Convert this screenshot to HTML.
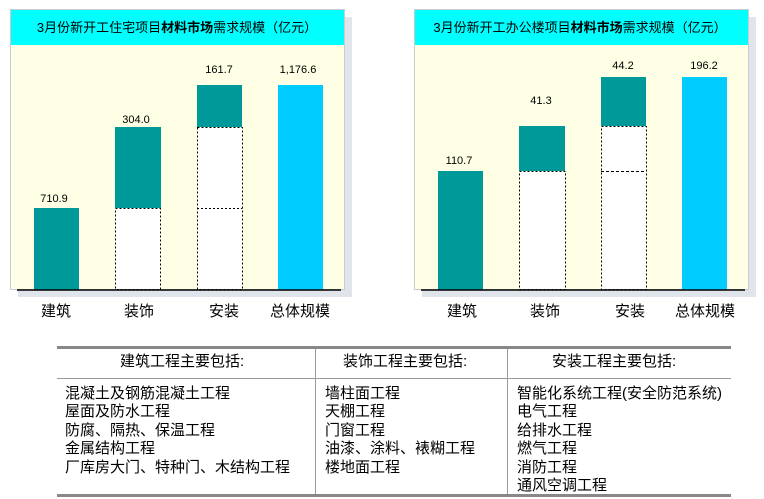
<!DOCTYPE html>
<html><head><meta charset="utf-8"><style>
html,body{margin:0;padding:0;background:#fff;}
body{width:764px;height:499px;position:relative;overflow:hidden;font-family:"Liberation Sans","Noto Sans CJK SC",sans-serif;}
svg{position:absolute;left:0;top:0;}
.t{position:absolute;font-size:15px;line-height:18.4px;color:#000;font-family:"Liberation Sans","Noto Sans CJK SC",sans-serif;white-space:nowrap;}
</style></head><body>
<svg width="764" height="340" viewBox="0 0 764 340" font-family="Liberation Sans, Noto Sans CJK SC, sans-serif">
<!-- left chart -->
<rect x="18" y="17" width="334" height="280" fill="#dfe5ea"/>
<rect x="10.5" y="9.5" width="334" height="280" fill="#ffffe6" stroke="#c8cccc"/>
<rect x="11" y="10" width="333" height="35" fill="#00ffff"/>
<text x="177" y="32" font-size="13" text-anchor="middle">3月份新开工住宅项目<tspan font-weight="bold">材料市场</tspan>需求规模（亿元）</text>
<rect x="34" y="208" width="45" height="82" fill="#009999"/>
<rect x="115" y="127" width="46" height="81" fill="#009999"/>
<rect x="115.5" y="208.5" width="45" height="81" fill="#fff" stroke="#000" stroke-dasharray="2,2"/>
<rect x="197" y="85" width="45" height="42" fill="#009999"/>
<rect x="197.5" y="127.5" width="45" height="162" fill="#fff" stroke="#000" stroke-dasharray="2,2"/>
<line x1="197" y1="208.5" x2="242" y2="208.5" stroke="#000" stroke-dasharray="2,2"/>
<rect x="278" y="85" width="45" height="205" fill="#00ccff"/>
<line x1="17" y1="290" x2="341" y2="290" stroke="#000" stroke-width="1.5"/>
<g font-size="11" text-anchor="middle">
<text x="54" y="202">710.9</text><text x="136" y="123">304.0</text><text x="219" y="73">161.7</text><text x="298" y="73">1,176.6</text>
</g>
<g font-size="15" text-anchor="middle">
<text x="56" y="316">建筑</text><text x="139" y="316">装饰</text><text x="224" y="316">安装</text><text x="300" y="316">总体规模</text>
</g>
<!-- right chart -->
<rect x="422" y="17" width="334" height="280" fill="#dfe5ea"/>
<rect x="414.5" y="9.5" width="334" height="280" fill="#ffffe6" stroke="#c8cccc"/>
<rect x="415" y="10" width="333" height="35" fill="#00ffff"/>
<text x="580" y="32" font-size="13" text-anchor="middle">3月份新开工办公楼项目<tspan font-weight="bold">材料市场</tspan>需求规模（亿元）</text>
<rect x="438" y="171" width="45" height="119" fill="#009999"/>
<rect x="519" y="126" width="46" height="45" fill="#009999"/>
<rect x="519.5" y="171.5" width="46" height="118" fill="#fff" stroke="#000" stroke-dasharray="2,2"/>
<rect x="601" y="77" width="45" height="49" fill="#009999"/>
<rect x="601.5" y="126.5" width="45" height="163" fill="#fff" stroke="#000" stroke-dasharray="2,2"/>
<line x1="601" y1="171.5" x2="646" y2="171.5" stroke="#000" stroke-dasharray="3,2"/>
<rect x="682" y="77" width="45" height="213" fill="#00ccff"/>
<line x1="421" y1="290" x2="745" y2="290" stroke="#000" stroke-width="1.5"/>
<g font-size="11" text-anchor="middle">
<text x="459" y="164">110.7</text><text x="541" y="104">41.3</text><text x="623" y="69">44.2</text><text x="704" y="69">196.2</text>
</g>
<g font-size="15" text-anchor="middle">
<text x="462" y="316">建筑</text><text x="545" y="316">装饰</text><text x="630" y="316">安装</text><text x="705" y="316">总体规模</text>
</g>
</svg>
<svg width="764" height="499" viewBox="0 0 764 499" style="top:0">
<rect x="57" y="346" width="674" height="3" fill="#888"/>
<line x1="57" y1="378.5" x2="731" y2="378.5" stroke="#999"/>
<rect x="57" y="494" width="674" height="3" fill="#888"/>
<line x1="315.5" y1="349" x2="315.5" y2="494" stroke="#999"/>
<line x1="507.5" y1="349" x2="507.5" y2="494" stroke="#999"/>
</svg>
<div class="t" style="left:120px;top:353px">建筑工程主要包括:</div>
<div class="t" style="left:343px;top:353px">装饰工程主要包括:</div>
<div class="t" style="left:552px;top:353px">安装工程主要包括:</div>
<div class="t" style="left:65px;top:385px">混凝土及钢筋混凝土工程<br>屋面及防水工程<br>防腐、隔热、保温工程<br>金属结构工程<br>厂库房大门、特种门、木结构工程</div>
<div class="t" style="left:325px;top:385px">墙柱面工程<br>天棚工程<br>门窗工程<br>油漆、涂料、裱糊工程<br>楼地面工程</div>
<div class="t" style="left:517px;top:385px">智能化系统工程(安全防范系统)<br>电气工程<br>给排水工程<br>燃气工程<br>消防工程<br>通风空调工程</div>
</body></html>
